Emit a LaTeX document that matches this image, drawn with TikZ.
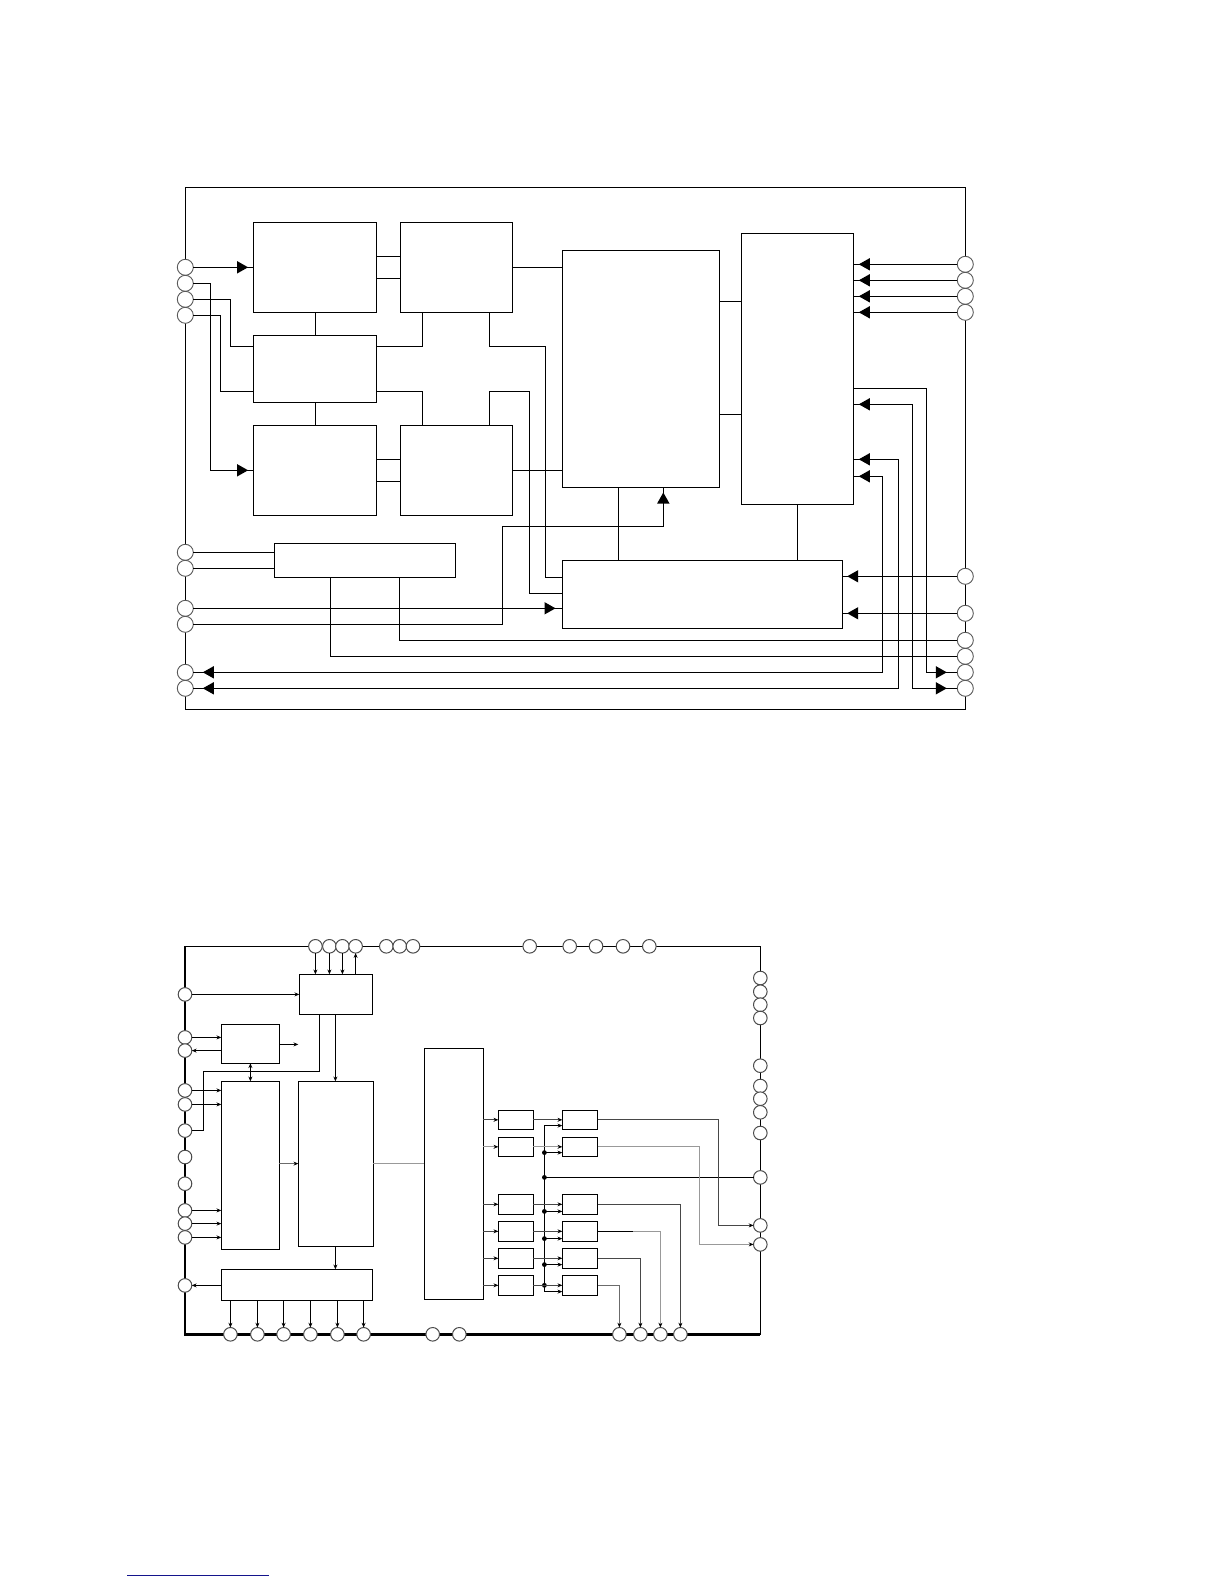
\documentclass[tikz,border=0pt]{standalone}
\usetikzlibrary{arrows.meta}
\tikzset{
  wire/.style={line width=.55pt,draw=black},
  boxn/.style={draw=black,line width=.6pt,inner sep=0pt,outer sep=0pt,fill=white},
  pinbig/.style={circle,draw=black!65,line width=.45pt,fill=white,minimum size=8pt,inner sep=0pt,outer sep=0pt},
  pinsmall/.style={circle,draw=black!70,line width=.5pt,fill=white,minimum size=6.8pt,inner sep=0pt,outer sep=0pt},
  sm/.style={-{Stealth[length=2.4pt,width=2pt,color=black]}},
  smb/.style={{Stealth[length=2.4pt,width=2pt]}-{Stealth[length=2.4pt,width=2pt]}},
  smr/.style={{Stealth[length=2.4pt,width=2pt]}-},
  darkw/.style={line width=.55pt,draw=black!72},
  grayw/.style={line width=.55pt,draw=black!40},
  midw/.style={line width=.55pt,draw=black!58},
}
% \Bx{name}{x1}{y1}{x2}{y2} in reference pixels
\newcommand\Bx[5]{\node[boxn,minimum width=\the\dimexpr(#4pt-#2pt)/2\relax,minimum height=\the\dimexpr(#5pt-#3pt)/2\relax] (#1) at ({(#2+#4)/2},{(#3+#5)/2}) {};}
\newcommand\PA[3]{\node[pinbig] (#1) at (#2,#3) {};}
\newcommand\PB[3]{\node[pinsmall] (#1) at (#2,#3) {};}
\newcommand\Tri[3]{\fill[shift={(#1,#2)},rotate=#3] (5.5,0)--(-5.5,6.2)--(-5.5,-6.2)--cycle;}
\begin{document}
\begin{tikzpicture}[x=.5pt,y=-.5pt]
\useasboundingbox[fill=white] (0,0) rectangle (1224,1584);
% ---------- upper diagram
\Bx{frameA}{185.3}{187.3}{965.3}{709.3}
\Bx{A}{253.3}{222.3}{376.3}{312.3}
\Bx{B}{400.3}{222.3}{512.3}{312.3}
\Bx{C}{253.3}{335.3}{376.3}{402.3}
\Bx{D}{253.3}{425.3}{376.3}{515.3}
\Bx{E}{400.3}{425.3}{512.3}{515.3}
\Bx{F}{562.3}{250.3}{719.3}{487.3}
\Bx{G}{741.3}{233.3}{853.7}{504.3}
\Bx{H}{274.3}{543.3}{455.3}{577.3}
\Bx{I}{562.3}{560.3}{842.3}{628.3}
\PA{l1}{185.3}{267.3}\PA{l2}{185.3}{283.3}\PA{l3}{185.3}{299.3}\PA{l4}{185.3}{315.3}
\PA{l5}{185.3}{552.3}\PA{l6}{185.3}{568.3}\PA{l7}{185.3}{608.3}\PA{l8}{185.3}{624.3}
\PA{l9}{185.3}{672.3}\PA{l10}{185.3}{688.3}
\PA{r1}{965.3}{264.3}\PA{r2}{965.3}{280.3}\PA{r3}{965.3}{296.3}\PA{r4}{965.3}{312.3}
\PA{r5}{965.3}{576.3}\PA{r6}{965.3}{613.3}\PA{r7}{965.3}{640.3}\PA{r8}{965.3}{656.3}
\PA{r9}{965.3}{672.3}\PA{r10}{965.3}{688.3}
\begin{scope}[wire]
\draw (l1.east) -- (l1.east -| A.west);
\draw (A.east |- 0,256.3) -- (B.west |- 0,256.3);
\draw (A.east |- 0,278.7) -- (B.west |- 0,278.7);
\draw (B.east |- 0,267.3) -- (F.west |- 0,267.3);
\draw (A.south -| 315.3,0) -- (C.north -| 315.3,0);
\draw (C.south -| 315.3,0) -- (D.north -| 315.3,0);
\draw (B.south -| 422.3,0) |- (C.east |- 0,346.3);
\draw (B.south -| 489.3,0) |- (545.7,346.3) |- (I.west |- 0,577.3);
\draw (C.east |- 0,391.3) -| (E.north -| 422.3,0);
\draw (E.north -| 489.3,0) |- (529.3,391.3) |- (I.west |- 0,593.3);
\draw (l2.east) -| (210.3,470.3) -- (D.west |- 0,470.3);
\draw (l3.east) -| (230.3,346.3) -- (C.west |- 0,346.3);
\draw (l4.east) -| (220.3,391.3) -- (C.west |- 0,391.3);
\draw (D.east |- 0,459.3) -- (E.west |- 0,459.3);
\draw (D.east |- 0,481.3) -- (E.west |- 0,481.3);
\draw (E.east |- 0,470.3) -- (F.west |- 0,470.3);
\draw (l5.east) -- (l5.east -| H.west);
\draw (l6.east) -- (l6.east -| H.west);
\draw (l7.east) -- (l7.east -| I.west);
\draw (l8.east) -| (502.3,526.3) -| (F.south -| 663.3,0);
\draw (H.south -| 330.3,0) |- (r8.west);
\draw (H.south -| 399.3,0) |- (r7.west);
\draw (l9.east) -| (882.3,476.3) -- (G.east |- 0,476.3);
\draw (l10.east) -| (898.7,459.3) -- (G.east |- 0,459.3);
\draw (G.east |- 0,388.3) -| (926.3,672.3) -- (r9.west);
\draw (r10.west) -| (912.3,404.3) -- (G.east |- 0,404.3);
\draw (F.east |- 0,301.3) -- (G.west |- 0,301.3);
\draw (F.east |- 0,414.3) -- (G.west |- 0,414.3);
\draw (F.south -| 618.3,0) -- (I.north -| 618.3,0);
\draw (G.south -| 797.3,0) -- (I.north -| 797.3,0);
\draw (r1.west) -- (r1.west -| G.east);
\draw (r2.west) -- (r2.west -| G.east);
\draw (r3.west) -- (r3.west -| G.east);
\draw (r4.west) -- (r4.west -| G.east);
\draw (r5.west) -- (r5.west -| I.east);
\draw (r6.west) -- (r6.west -| I.east);
\end{scope}
\Tri{242.6}{267.3}{0}\Tri{242.6}{470.3}{0}\Tri{550}{608.3}{0}
\Tri{663.3}{498}{90}
\Tri{208.3}{672.3}{180}\Tri{208.3}{688.3}{180}
\Tri{864.3}{264.3}{180}\Tri{864.3}{280.3}{180}\Tri{864.3}{296.3}{180}\Tri{864.3}{312.3}{180}
\Tri{864.3}{404.3}{180}\Tri{864.3}{459.3}{180}\Tri{864.3}{476.3}{180}
\Tri{852.7}{576.3}{180}\Tri{852.7}{613.3}{180}
\Tri{941.3}{672.3}{0}\Tri{941.3}{688.3}{0}
% ---------- lower diagram
\Bx{frameB}{185}{946.3}{760.3}{1334.5}
\draw[line width=1.1pt] (frameB.north west) -- (frameB.south west) -- (frameB.south east);
\Bx{J}{299.3}{974.3}{372.3}{1014.3}
\Bx{K}{221.3}{1024.3}{279.3}{1063.3}
\Bx{L}{221.3}{1081.3}{279.3}{1249.3}
\Bx{M}{298.3}{1081.3}{373.3}{1246.3}
\Bx{N}{221.3}{1269.3}{372.3}{1300.3}
\Bx{O}{424.3}{1048.3}{483.3}{1299.3}
\Bx{a1}{498.3}{1110.3}{533.3}{1129.3}
\Bx{a2}{498.3}{1137.3}{533.3}{1156.3}
\Bx{a3}{498.3}{1194.3}{533.3}{1214.3}
\Bx{a4}{498.3}{1221.3}{533.3}{1241.3}
\Bx{a5}{498.3}{1248.3}{533.3}{1268.3}
\Bx{a6}{498.3}{1275.3}{533.3}{1295.3}
\Bx{b1}{562.3}{1110.3}{597.7}{1129.3}
\Bx{b2}{562.3}{1137.3}{597.7}{1156.3}
\Bx{b3}{562.3}{1194.3}{597.7}{1214.3}
\Bx{b4}{562.3}{1221.3}{597.7}{1241.3}
\Bx{b5}{562.3}{1248.3}{597.7}{1268.3}
\Bx{b6}{562.3}{1275.3}{597.7}{1295.3}
\PB{t1}{315.4}{946.3}\PB{t2}{329.4}{946.3}\PB{t3}{342.4}{946.3}\PB{t4}{355.6}{946.3}
\PB{t5}{386.3}{946.3}\PB{t6}{399.7}{946.3}\PB{t7}{413}{946.3}\PB{t8}{529.7}{946.3}
\PB{t9}{569.7}{946.3}\PB{t10}{596}{946.3}\PB{t11}{623}{946.3}\PB{t12}{649.3}{946.3}
\PB{m1}{185}{994.4}\PB{m2}{185}{1037.4}\PB{m3}{185}{1050.6}\PB{m4}{185}{1090.4}
\PB{m5}{185}{1104.4}\PB{m6}{185}{1130.6}\PB{m7}{185}{1157}\PB{m8}{185}{1183.7}
\PB{m9}{185}{1210.4}\PB{m10}{185}{1223.6}\PB{m11}{185}{1237.4}\PB{m12}{185}{1285.4}
\PB{q1}{230.4}{1334.3}\PB{q2}{257.4}{1334.3}\PB{q3}{283.6}{1334.3}\PB{q4}{310.4}{1334.3}
\PB{q5}{337.4}{1334.3}\PB{q6}{363.6}{1334.3}\PB{q7}{432.7}{1334.3}\PB{q8}{459.3}{1334.3}
\PB{q9}{619.4}{1334.3}\PB{q10}{640.4}{1334.3}\PB{q11}{660.4}{1334.3}\PB{q12}{680.4}{1334.3}
\PB{s1}{760.3}{978}\PB{s2}{760.3}{991.7}\PB{s3}{760.3}{1004.7}\PB{s4}{760.3}{1018}
\PB{s5}{760.3}{1065.7}\PB{s6}{760.3}{1086}\PB{s7}{760.3}{1098.7}\PB{s8}{760.3}{1112.3}
\PB{s9}{760.3}{1133}\PB{s10}{760.3}{1177.4}\PB{s11}{760.3}{1225.4}\PB{s12}{760.3}{1244.4}
\coordinate (kout) at (298.3,1044.4);
\coordinate (busT) at (544.4,1125.6);
\coordinate (busB) at (544.4,1291.6);
\coordinate (busIn) at (544.4,1177.4);
\begin{scope}[wire]
\draw[sm] (t1.south) -- (t1.south |- J.north);
\draw[sm] (t2.south) -- (t2.south |- J.north);
\draw[sm] (t3.south) -- (t3.south |- J.north);
\draw[smr] (t4.south) -- (t4.south |- J.north);
\draw[sm] (m1.east) -- (m1.east -| J.west);
\draw (J.south -| 319.4,0) |- (203.4,1071.4) |- (m6.east);
\draw[sm] (J.south -| 335.4,0) -- (M.north -| 335.4,0);
\draw[sm] (m2.east) -- (m2.east -| K.west);
\draw[smr] (m3.east) -- (m3.east -| K.west);
\draw[sm] (K.east |- kout) -- (kout);
\draw[smb] (K.south -| 250.4,0) -- (L.north -| 250.4,0);
\draw[sm] (m4.east) -- (m4.east -| L.west);
\draw[sm] (m5.east) -- (m5.east -| L.west);
\draw[sm] (m9.east) -- (m9.east -| L.west);
\draw[sm] (m10.east) -- (m10.east -| L.west);
\draw[sm] (m11.east) -- (m11.east -| L.west);
\draw[sm] (M.south -| 335.4,0) -- (N.north -| 335.4,0);
\draw[smr] (m12.east) -- (m12.east -| N.west);
\draw[sm] (N.south -| q1.north) -- (q1.north);
\draw[sm] (N.south -| q2.north) -- (q2.north);
\draw[sm] (N.south -| q3.north) -- (q3.north);
\draw[sm] (N.south -| q4.north) -- (q4.north);
\draw[sm] (N.south -| q5.north) -- (q5.north);
\draw[sm] (N.south -| q6.north) -- (q6.north);
\draw (busT) -- (busB);
\draw[sm] (busT) -- (busT -| b1.west);
\draw[sm] (544.4,1152.6) -- (b2.west |- 0,1152.6);
\draw[sm] (544.4,1211.4) -- (b3.west |- 0,1211.4);
\draw[sm] (544.4,1238.6) -- (b4.west |- 0,1238.6);
\draw[sm] (544.4,1264.6) -- (b5.west |- 0,1264.6);
\draw[sm] (busB) -- (busB -| b6.west);
\draw (s10.west) -- (busIn);
\end{scope}
\foreach \yy in {1152.6,1177.4,1211.4,1238.6,1264.6,1285.3}
  \fill (544.4,\yy) circle[radius=2.4];
\draw[sm,midw] (L.east |- 0,1163.6) -- (M.west |- 0,1163.6);
\draw[grayw] (M.east |- 0,1163.6) -- (O.west |- 0,1163.6);
\foreach \n/\c in {1/darkw,2/grayw,3/darkw,4/darkw,5/darkw,6/darkw}{
  \draw[sm,\c] (O.east |- a\n.west) -- (a\n.west);
  \draw[sm,\c] (a\n.east) -- (b\n.west);
}
\draw[darkw,sm] (b1.east) -| (718.4,1225.4) -- (s11.west);
\draw[grayw,sm] (b2.east) -| (699.6,1244.4) -- (s12.west);
\draw[darkw,sm] (b3.east) -| (q12.north);
\draw[grayw,sm] (b4.east) -| (q11.north);
\draw[line width=.55pt] (b4.east) -- (633,1231.3);
\draw[darkw,sm] (b5.east) -| (q10.north);
\draw[midw,sm] (b6.east) -| (q9.north);
% ---------- rule at page foot
\coordinate (ruleL) at (127,1575.4);
\coordinate (ruleR) at (269,1575.4);
\draw[line width=.55pt,draw={rgb,255:red,20;green,20;blue,140}] (ruleL) -- (ruleR);
\end{tikzpicture}
\end{document}
